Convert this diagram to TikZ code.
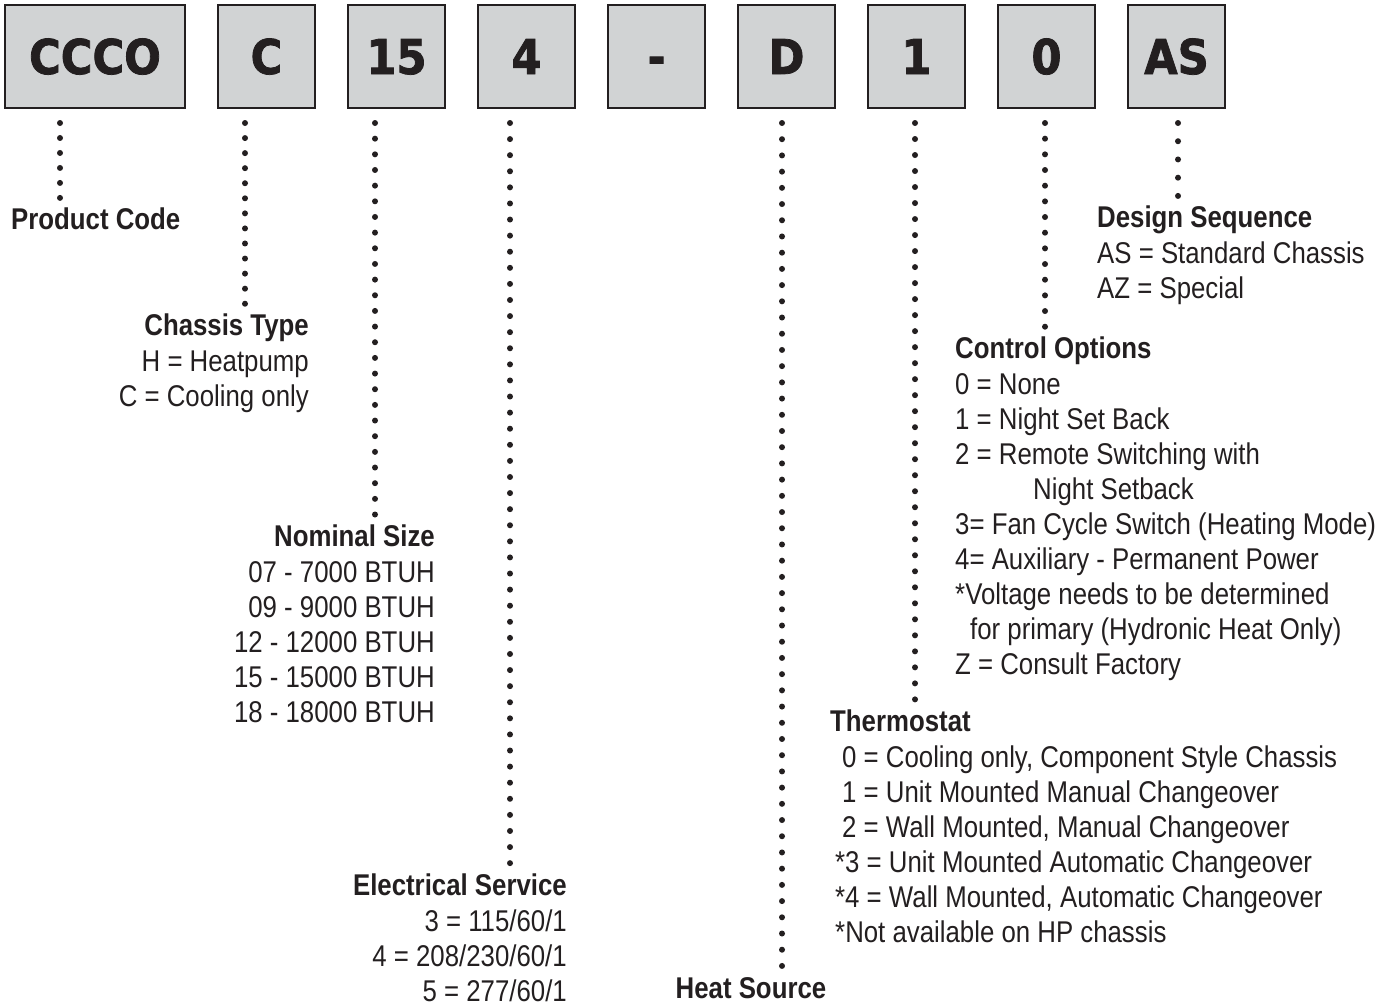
\documentclass[tikz,border=0pt]{standalone}
\usepackage{fontspec}
\setmainfont{Liberation Sans}[FakeStretch=0.86]
\newfontfamily\boxfont{DejaVu Sans}[FakeStretch=0.9,FakeBold=1.6]
\usetikzlibrary{positioning,calc}
\definecolor{ink}{HTML}{231F20}
\definecolor{boxgray}{HTML}{D1D3D4}

\begin{document}
\begin{tikzpicture}[
  x=1pt, y=-1pt,
  codebox/.style={
    rectangle, draw=ink, fill=boxgray, line width=2.5pt, outer sep=0pt,
    minimum width=97pt, minimum height=103pt, inner sep=0pt,
    text=ink, font=\boxfont\bfseries\fontsize{48}{48}\selectfont,
    text height=35pt, text depth=0pt
  },
  lbl/.style={
    text=ink, inner xsep=0pt, inner ysep=10pt,
    font=\fontsize{30}{35.1}\selectfont
  },
  dotline/.style={
    ink, line width=6pt, line cap=round, dash pattern=on 0pt off #1
  }
]
\useasboundingbox (0,0) rectangle (1396,1007);

% Code boxes
\node[codebox, minimum width=180pt] (bxProd) at (95,56.5) {CCCO};
\node[codebox, right=33pt of bxProd]    (bxChassis) {C};
\node[codebox, right=33pt of bxChassis] (bxSize)    {15};
\node[codebox, right=33pt of bxSize]    (bxElec)    {4};
\node[codebox, right=33pt of bxElec]    (bxDash)    {-};
\node[codebox, right=33pt of bxDash]    (bxHeat)    {D};
\node[codebox, right=33pt of bxHeat]    (bxThermo)  {1};
\node[codebox, right=33pt of bxThermo]  (bxCtrl)    {0};
\node[codebox, right=33pt of bxCtrl]    (bxDesign)  {AS};

% Columns of the dotted leaders
\coordinate (xProd)    at (60,0);
\coordinate (xChassis) at (245,0);
\coordinate (xSize)    at (375,0);
\coordinate (xElec)    at (510,0);
\coordinate (xHeat)    at (782,0);
\coordinate (xThermo)  at (915,0);
\coordinate (xCtrl)    at (1045,0);
\coordinate (xDesign)  at (1178,0);

% -- Labels --
\node[lbl, anchor=north west, align=left] (prodCode) at (11,198)
  {\textbf{Product Code}};
\node[lbl, anchor=north east, align=right] (chassisType) at (309,304)
  {\textbf{Chassis Type}\\H = Heatpump\\C = Cooling only};
\node[lbl, anchor=north east, align=right] (nomSize) at (435,515)
  {\textbf{Nominal Size}\\07 - 7000 BTUH\\09 - 9000 BTUH\\12 - 12000 BTUH\\15 - 15000 BTUH\\18 - 18000 BTUH};
\node[lbl, anchor=north east, align=right] (elecServ) at (567,864)
  {\textbf{Electrical Service}\\3 = 115/60/1\\4 = 208/230/60/1\\5 = 277/60/1};
\node[lbl, anchor=north] (heatSrc) at (751,967)
  {\textbf{Heat Source}};
\node[lbl, anchor=north west, align=left] (thermo) at (830,700)
  {\textbf{Thermostat}\\
   \hspace*{12pt}0 = Cooling only, Component Style Chassis\\
   \hspace*{12pt}1 = Unit Mounted Manual Changeover\\
   \hspace*{12pt}2 = Wall Mounted, Manual Changeover\\
   \hspace*{5pt}*3 = Unit Mounted Automatic Changeover\\
   \hspace*{5pt}*4 = Wall Mounted, Automatic Changeover\\
   \hspace*{5pt}*Not available on HP chassis};
\node[lbl, anchor=north west, align=left] (ctrlOpt) at (955,327)
  {\textbf{Control Options}\\
   0 = None\\
   1 = Night Set Back\\
   2 = Remote Switching with\\
   \hspace*{78pt}Night Setback\\
   3= Fan Cycle Switch (Heating Mode)\\
   4= Auxiliary - Permanent Power\\
   *Voltage needs to be determined\\
   \hspace*{15pt}for primary (Hydronic Heat Only)\\
   Z = Consult Factory};
\node[lbl, anchor=north west, align=left] (designSeq) at (1097,196)
  {\textbf{Design Sequence}\\AS = Standard Chassis\\AZ = Special};

% -- Dotted leaders --
\draw[dotline=14.98pt] ($(bxProd.south -| xProd)+(0,15)$)       -- (xProd |- prodCode.north);
\draw[dotline=15.06pt] ($(bxChassis.south -| xChassis)+(0,15)$) -- (xChassis |- chassisType.north);
\draw[dotline=15.66pt] ($(bxSize.south -| xSize)+(0,15)$)       -- (xSize |- nomSize.north);
\draw[dotline=16.09pt] ($(bxElec.south -| xElec)+(0,15)$)       -- (xElec |- elecServ.north);
\draw[dotline=16.21pt] ($(bxHeat.south -| xHeat)+(0,15)$)       -- (xHeat |- heatSrc.north);
\draw[dotline=16.01pt] ($(bxThermo.south -| xThermo)+(0,15)$)   -- (xThermo |- thermo.north);
\draw[dotline=15.67pt] ($(bxCtrl.south -| xCtrl)+(0,15)$)       -- (xCtrl |- ctrlOpt.north);
\draw[dotline=18.23pt] ($(bxDesign.south -| xDesign)+(0,15)$)   -- (xDesign |- designSeq.north);

\end{tikzpicture}
\end{document}
